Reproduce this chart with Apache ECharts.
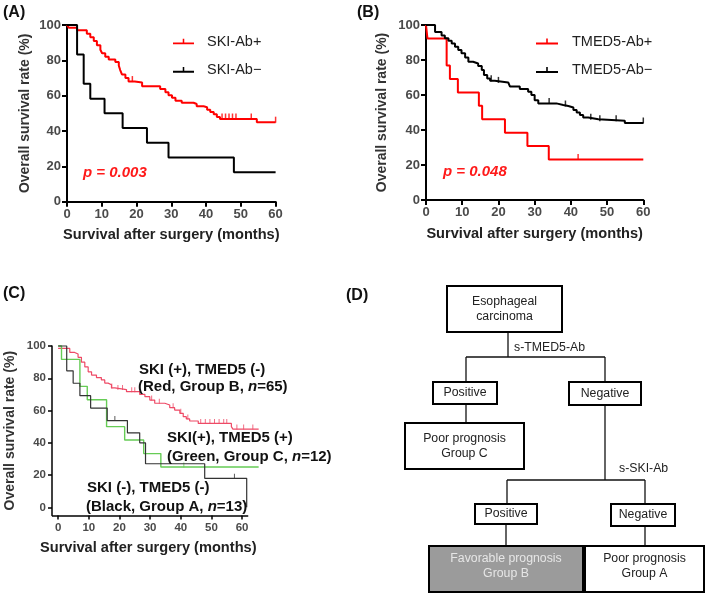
<!DOCTYPE html>
<html>
<head>
<meta charset="utf-8">
<script src="https://cdn.jsdelivr.net/npm/echarts@6/dist/echarts.min.js"></script>
<style>
  html, body { margin: 0; padding: 0; background: #fff; }
  #main { width: 709px; height: 596px; }
</style>
</head>
<body>
<div id="main"></div>
<script>
// ---- data: [month, survival %] ----
const monthTicks = [0, 10, 20, 30, 40, 50, 60];
const rateTicks = [0, 20, 40, 60, 80, 100];

// (A) SKI antibody
const skiPos = [[0,100],[0.5,98.5],[2.9,97],[5.7,95],[6.7,93],[7.7,91],[8.6,88.5],[9.6,86],[10.1,84],
  [11,82],[12,80.5],[13.9,79],[14.9,77],[15.3,74.5],[15.8,72],[16.8,70],[17.7,68],[19.5,67.5],[21.6,65.3],
  [26.8,63.8],[28.3,62],[29.2,60.3],[30.2,58.8],[31.2,57.2],[33,56],[36.4,55.3],[37.3,54],[39.3,53.5],
  [40.3,52],[41.2,50.8],[42.2,49.5],[43.1,48],[44,46.8],[54.6,45],[60,45]];
const skiNeg = [[0,100],[2.9,83.3],[4.8,66.7],[6.7,58.3],[10.8,50],[16,41.7],[23,33.3],[29.2,25],[48,16.7],[60,16.7]];
const skiPosCens = [[18.8,68],[44.6,46.8],[45.6,46.8],[46.6,46.8],[47.6,46.8],[48.6,46.8],[53,46.8],[60,45]];

// (B) TMED5 antibody
const tmedPos = [[0,100],[0.4,92.3],[5.7,76.9],[6.6,69.2],[8.8,61.5],[14.6,53.8],[15.5,46.2],[21.8,38.5],
  [28,30.8],[33.9,23.1],[60,23.1]];
const tmedNeg = [[0,100],[2.5,96],[4.3,94],[5.2,92.4],[6.2,91],[7.1,89.5],[8,87.6],[8.9,85.7],[9.8,83.8],
  [10.8,81.5],[11.7,79],[13,78],[14.4,76.6],[15.4,74.3],[16,71.4],[16.9,69.5],[17.7,68.2],[19,67.2],
  [22.7,66.3],[23.2,64.8],[25.9,63.4],[28.2,61.9],[29.1,60],[30,57],[31,55.2],[36,54.3],[37.9,53.7],
  [39.3,52.9],[40.7,51.4],[41.6,50],[42.5,48.6],[43.4,47.2],[44.8,46.1],[47.6,45.3],[54.9,44],[60,44]];
const tmedPosCens = [[42,23.1]];
const tmedNegCens = [[18,68.2],[20,67.2],[34,55.2],[38.5,53.7],[45.5,46.1],[48,45.3],[52.5,45.3],[60,44]];

// (C) combined groups
const groupB = [[0,98.5],[3.8,96],[5.4,95],[6.5,93],[7.6,90],[8.7,87],[9.8,84],[10.9,82],[12.5,80.4],
  [14.1,79],[15.2,77],[16.3,76],[17.4,74],[18.5,73],[22.3,71.7],[26.6,70],[28.3,68.6],[29.9,66.5],
  [31.5,64.5],[34.8,63.4],[36.4,61.8],[38,60.3],[39.7,58.3],[40.8,56.2],[41.8,54.8],[42.9,53.5],
  [45.7,52],[56.5,50],[57,48.5],[65.4,48.5]];
const groupC = [[0,100],[1.1,91.7],[7.1,75],[9.5,66.7],[15.8,50],[21.7,41.7],[27.9,33.3],[33.5,25],[65.4,25]];
const groupA = [[0,100],[2.8,84.6],[4.9,76.9],[7.1,69.2],[10.6,61.5],[16,53.8],[22.6,46.2],[26.6,40],
  [28.5,27],[47.8,18],[61.5,0]];
const groupBCens = [[17.5,74],[19.5,73],[21,73],[24,71.7],[25,71.7],[30.5,66.5],[33,64.5],[37.5,61.8],
  [40,58.3],[42.3,54.8],[46.5,52],[48,52],[49.5,52],[51,52],[52.5,52],[54,52],[55,52],[58.3,48.5],
  [60.5,48.5],[63.5,48.5]];
const groupCCens = [[41,25]];
const groupACens = [[18.5,53.8],[57.5,18]];
// panel C x axis line runs -2..62 while the curves run on to ~65 months
const cAxisSpan = [-2, 62];

const FONT = '"Liberation Sans", Arial, sans-serif';
const legendIcon = 'path://M0,5h22v2h-22z M10.2,1h1.6v5h-1.6z';

function kmLine(name, data, color, width, idx) {
  return {
    type: 'line', name: name, data: data, step: 'end',
    xAxisIndex: idx, yAxisIndex: idx, showSymbol: false, clip: false,
    color: color, lineStyle: { color: color, width: width }
  };
}
function censor(name, data, color, idx, size) {
  return {
    type: 'scatter', name: name, data: data, xAxisIndex: idx, yAxisIndex: idx,
    symbol: 'rect', symbolSize: size, symbolOffset: [0, -size[1] / 2 + 0.5],
    itemStyle: { color: color }, silent: true
  };
}
function xAxisFor(idx, isC) {
  const ax = {
    type: 'value', gridIndex: idx,
    name: 'Survival after surgery (months)', nameLocation: 'middle', nameGap: isC ? 25 : 26,
    nameTextStyle: { fontFamily: FONT, fontSize: 14.6, fontWeight: 'bold', color: '#222',
      padding: isC ? [0, 16, 0, 0] : 0 },
    axisLine: { show: !isC, onZero: false, lineStyle: { color: '#000', width: 2 } },
    axisTick: { show: true, length: isC ? 4 : 5, lineStyle: { color: '#000', width: isC ? 1.5 : 2 } },
    axisLabel: { fontFamily: FONT, fontSize: isC ? 11.5 : 13, fontWeight: 'bold', color: '#4a4a4a', margin: 6 },
    splitLine: { show: false }
  };
  if (isC) {
    ax.min = -2; ax.max = 66;
    ax.axisTick.customValues = monthTicks;
    ax.axisLabel.customValues = monthTicks;
  } else {
    ax.min = 0; ax.max = 60; ax.interval = 10;
  }
  return ax;
}
function yAxisFor(idx, isC, gap) {
  const ax = {
    type: 'value', gridIndex: idx,
    name: 'Overall survival rate (%)', nameLocation: 'middle', nameGap: gap,
    nameTextStyle: { fontFamily: FONT, fontSize: 14, fontWeight: 'bold', color: '#333' },
    axisLine: { show: true, onZero: false, lineStyle: { color: '#000', width: isC ? 1.5 : 2 } },
    axisTick: { show: true, length: isC ? 4 : 5, lineStyle: { color: '#000', width: isC ? 1.5 : 2 } },
    axisLabel: { fontFamily: FONT, fontSize: isC ? 11.5 : 13, fontWeight: 'bold', color: '#4a4a4a', margin: 6 },
    splitLine: { show: false }
  };
  if (isC) {
    ax.min = -5; ax.max = 100;
    ax.axisTick.customValues = rateTicks;
    ax.axisLabel.customValues = rateTicks;
  } else {
    ax.min = 0; ax.max = 100; ax.interval = 20;
  }
  return ax;
}

// ---- flowchart (D) ----
const flowBoxes = [
  { x: 447, y: 286, w: 115, h: 46, lines: ['Esophageal', 'carcinoma'] },
  { x: 433, y: 382, w: 64, h: 22, lines: ['Positive'] },
  { x: 569, y: 382, w: 72, h: 23, lines: ['Negative'] },
  { x: 405, y: 423, w: 119, h: 46, lines: ['Poor prognosis', 'Group C'] },
  { x: 475, y: 504, w: 62, h: 20, lines: ['Positive'] },
  { x: 611, y: 504, w: 64, h: 22, lines: ['Negative'] },
  { x: 429, y: 546, w: 154, h: 46, lines: ['Favorable prognosis', 'Group B'], fill: '#9b9b9b', color: '#e6e6e6', top: true },
  { x: 585, y: 546, w: 119, h: 46, lines: ['Poor prognosis', 'Group A'], top: true }
];
const flowLinks = [
  [508, 332, 508, 357], [466, 357, 605, 357], [466, 357, 466, 382], [605, 357, 605, 382],
  [466, 404, 466, 423], [605, 405, 605, 480], [507, 480, 645, 480], [507, 480, 507, 504],
  [645, 480, 645, 504], [506, 524, 506, 546], [645, 526, 645, 546]
];
const flowLabels = [
  { x: 514, y: 348, text: 's-TMED5-Ab' },
  { x: 619, y: 469, text: 's-SKI-Ab' }
];

const graphics = [];
flowLinks.forEach(function (l) {
  graphics.push({ type: 'line', shape: { x1: l[0], y1: l[1], x2: l[2], y2: l[3] },
    style: { stroke: '#111', lineWidth: 1.3 }, z: 1 });
});
flowBoxes.forEach(function (b) {
  graphics.push({ type: 'rect', shape: { x: b.x, y: b.y, width: b.w, height: b.h },
    style: { fill: b.fill || '#fff', stroke: '#000', lineWidth: 2 }, z: 2 });
  const n = b.lines.length;
  const step = 15.5;
  const cy = b.top ? b.y + 20 : b.y + b.h / 2;
  b.lines.forEach(function (t, i) {
    graphics.push({ type: 'text', x: b.x + b.w / 2, y: cy + (i - (n - 1) / 2) * step, z: 3,
      style: { text: t, fill: b.color || '#222', font: '12.3px ' + FONT, align: 'center', verticalAlign: 'middle' } });
  });
});
flowLabels.forEach(function (l) {
  graphics.push({ type: 'text', x: l.x, y: l.y, z: 3,
    style: { text: l.text, fill: '#222', font: '12.3px ' + FONT, align: 'left', verticalAlign: 'middle' } });
});

// panel letters, p values and group notes
const panelLetters = [['(A)', 3, 13], ['(B)', 357, 13], ['(C)', 3, 294], ['(D)', 346, 296]];
panelLetters.forEach(function (p) {
  graphics.push({ type: 'text', x: p[1], y: p[2], style: { text: p[0], fill: '#111',
    font: 'bold 16px ' + FONT, align: 'left', verticalAlign: 'middle' } });
});
[['p = 0.003', 83, 173], ['p = 0.048', 443, 172]].forEach(function (p) {
  graphics.push({ type: 'text', x: p[1], y: p[2], style: { text: p[0], fill: '#ff1a1a',
    font: 'italic bold 15px ' + FONT, align: 'left', verticalAlign: 'middle' } });
});
const groupNotes = [
  ['SKI (+), TMED5 (-)', 139, 370], ['(Red, Group B, {i|n}=65)', 138, 387],
  ['SKI(+), TMED5 (+)', 167, 438], ['(Green, Group C, {i|n}=12)', 167, 457],
  ['SKI (-), TMED5 (-)', 87, 488], ['(Black, Group A, {i|n}=13)', 86, 507]
];
groupNotes.forEach(function (g) {
  graphics.push({ type: 'text', x: g[1], y: g[2], z: 5, style: { text: g[0], fill: '#111',
    font: 'bold 15px ' + FONT, align: 'left', verticalAlign: 'middle',
    rich: { i: { font: 'italic bold 15px ' + FONT, fill: '#111' } } } });
});

const groupASeries = kmLine('Group A', groupA, '#333333', 1.2, 2);
groupASeries.markLine = {
  symbol: 'none', silent: true, label: { show: false },
  lineStyle: { color: '#000', width: 1.5, type: 'solid' },
  data: [[{ coord: [cAxisSpan[0], -5] }, { coord: [cAxisSpan[1], -5] }]]
};

const chart = echarts.init(document.getElementById('main'));
chart.setOption({
  animation: false,
  backgroundColor: '#fff',
  textStyle: { fontFamily: FONT },
  grid: [
    { left: 67, top: 25, width: 208.6, height: 176.7 },
    { left: 426, top: 25, width: 217.3, height: 175 },
    { left: 52, top: 346, width: 208.5, height: 169.4 }
  ],
  xAxis: [xAxisFor(0, false), xAxisFor(1, false), xAxisFor(2, true)],
  yAxis: [yAxisFor(0, false, 35), yAxisFor(1, false, 37), yAxisFor(2, true, 35)],
  legend: [
    { data: ['SKI-Ab+', 'SKI-Ab−'], orient: 'vertical', left: 173, top: 33.5, itemGap: 12.4, padding: 0,
      itemWidth: 21, itemHeight: 7, icon: legendIcon, selectedMode: false,
      textStyle: { fontFamily: FONT, fontSize: 14.5, color: '#222', lineHeight: 16, padding: [0, 0, 0, 8] } },
    { data: ['TMED5-Ab+', 'TMED5-Ab−'], orient: 'vertical', left: 536, top: 33.5, itemGap: 12.4, padding: 0,
      itemWidth: 22, itemHeight: 7, icon: legendIcon, selectedMode: false,
      textStyle: { fontFamily: FONT, fontSize: 14.5, color: '#222', lineHeight: 16, padding: [0, 0, 0, 9] } }
  ],
  series: [
    kmLine('SKI-Ab+', skiPos, '#ff0000', 2, 0),
    kmLine('SKI-Ab−', skiNeg, '#000000', 2, 0),
    censor('skiPosCens', skiPosCens, '#ff0000', 0, [1.5, 6]),
    kmLine('TMED5-Ab+', tmedPos, '#ff0000', 2, 1),
    kmLine('TMED5-Ab−', tmedNeg, '#000000', 2, 1),
    censor('tmedPosCens', tmedPosCens, '#ff0000', 1, [1.5, 6]),
    censor('tmedNegCens', tmedNegCens, '#000000', 1, [1.5, 6]),
    kmLine('Group B', groupB, '#ee4a66', 1.2, 2),
    kmLine('Group C', groupC, '#66cc55', 1.4, 2),
    groupASeries,
    censor('groupBCens', groupBCens, '#ee4a66', 2, [1, 5]),
    censor('groupCCens', groupCCens, '#66cc55', 2, [1, 5]),
    censor('groupACens', groupACens, '#333333', 2, [1, 5])
  ],
  graphic: graphics
});
</script>
</body>
</html>
